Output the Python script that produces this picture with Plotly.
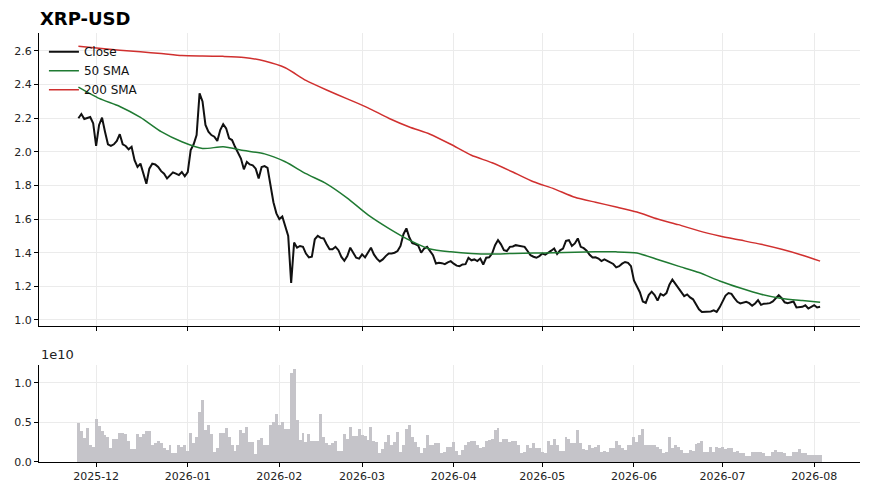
import pandas as pd
import plotly.graph_objects as go
from plotly.subplots import make_subplots

TITLE = "XRP-USD"
START_DATE = "2025-11-25"

# daily close, 2025-11-25 .. 2026-08-03
close = [
    2.20, 2.225, 2.195, 2.20, 2.207, 2.17,
    # Dec
    2.035, 2.16, 2.203, 2.12, 2.045, 2.036, 2.045, 2.065, 2.105, 2.045,
    2.035, 2.015, 2.03, 1.95, 1.91, 1.93, 1.865, 1.81, 1.90, 1.93,
    1.925, 1.91, 1.885, 1.87, 1.842, 1.858, 1.878, 1.87, 1.862, 1.88, 1.855,
    # Jan
    1.88, 2.01, 2.045, 2.10, 2.348, 2.30, 2.16, 2.12, 2.10, 2.09,
    2.065, 2.13, 2.165, 2.14, 2.08, 2.07, 2.03, 1.99, 1.96, 1.896,
    1.94, 1.925, 1.92, 1.90, 1.842, 1.91, 1.915, 1.905, 1.80, 1.70, 1.634,
    # Feb
    1.60, 1.615, 1.56, 1.50, 1.22, 1.46, 1.43, 1.44, 1.435, 1.395,
    1.372, 1.376, 1.48, 1.50, 1.488, 1.485, 1.45, 1.42, 1.42, 1.435,
    1.415, 1.375, 1.352, 1.38, 1.43, 1.40, 1.37, 1.365,
    # Mar
    1.39, 1.372, 1.40, 1.43, 1.39, 1.365, 1.348, 1.36, 1.38, 1.396,
    1.396, 1.40, 1.41, 1.44, 1.51, 1.545, 1.49, 1.457, 1.451, 1.442,
    1.40, 1.425, 1.435, 1.41, 1.385, 1.336, 1.34, 1.338, 1.332, 1.343, 1.35,
    # Apr
    1.335, 1.323, 1.32, 1.33, 1.332, 1.37, 1.355, 1.36, 1.35, 1.365,
    1.33, 1.37, 1.373, 1.395, 1.445, 1.475, 1.45, 1.415, 1.41, 1.435,
    1.437, 1.445, 1.442, 1.437, 1.435, 1.41, 1.385, 1.376, 1.37, 1.38,
    # May
    1.395, 1.388, 1.398, 1.412, 1.425, 1.392, 1.414, 1.425, 1.47, 1.475,
    1.44, 1.455, 1.485, 1.435, 1.427, 1.412, 1.388, 1.372, 1.373, 1.365,
    1.35, 1.36, 1.352, 1.34, 1.333, 1.313, 1.32, 1.335, 1.345, 1.34, 1.32,
    # Jun
    1.235, 1.20, 1.165, 1.11, 1.102, 1.148, 1.168, 1.148, 1.115, 1.155,
    1.145, 1.16, 1.21, 1.24, 1.215, 1.185, 1.16, 1.142, 1.152, 1.134,
    1.123, 1.09, 1.063, 1.048, 1.048, 1.05, 1.05, 1.057, 1.048, 1.075,
    # Jul
    1.112, 1.145, 1.16, 1.155, 1.13, 1.108, 1.098, 1.102, 1.108, 1.10,
    1.085, 1.098, 1.118, 1.09, 1.097, 1.098, 1.10, 1.11, 1.13, 1.148,
    1.13, 1.105, 1.10, 1.105, 1.11, 1.074, 1.074, 1.078, 1.087, 1.068, 1.078,
    # Aug
    1.088, 1.074, 1.078,
]

# daily volume in billions
volume_bn = [
    4.9, 3.9, 3.0, 4.3, 2.1, 1.9, 5.4, 4.5, 3.9, 3.4,
    3.2, 1.8, 2.9, 2.9, 3.6, 3.7, 3.5, 2.6, 1.6, 1.6,
    3.5, 3.2, 3.5, 3.9, 3.9, 2.1, 2.4, 2.6, 2.4, 1.8,
    1.5, 2.2, 1.1, 1.1, 2.2, 1.9, 2.1, 1.4, 3.6, 2.4,
    3.2, 6.3, 7.8, 4.0, 4.7, 3.5, 1.2, 1.8, 3.6, 3.7,
    4.3, 3.1, 2.2, 1.4, 2.1, 4.0, 3.6, 4.4, 2.5, 2.5,
    1.0, 2.8, 3.0, 2.2, 2.2, 4.6, 5.0, 6.1, 4.6, 5.0,
    4.2, 4.2, 11.2, 11.7, 5.3, 2.8, 3.7, 2.5, 3.5, 2.6,
    2.6, 2.6, 6.1, 3.2, 2.4, 2.1, 2.4, 2.6, 1.4, 1.4,
    3.5, 2.9, 4.4, 3.3, 3.3, 4.2, 3.4, 3.3, 2.8, 4.4,
    2.6, 2.5, 1.1, 1.6, 2.5, 3.4, 2.1, 2.5, 3.8, 1.2,
    2.1, 4.2, 4.7, 3.1, 2.5, 1.9, 1.1, 1.8, 3.4, 2.1,
    2.1, 2.4, 2.4, 1.1, 1.2, 1.9,
    1.9, 2.5, 1.4, 0.9, 1.5, 2.1, 2.5, 2.6, 2.6, 2.1,
    1.7, 1.9, 2.6, 2.8, 2.9, 4.0, 4.3, 2.5, 2.9, 2.9,
    2.5, 2.6, 2.6, 2.1, 1.1, 1.2, 2.2, 1.7, 2.4, 1.8,
    1.7, 1.2, 1.1, 2.6, 2.1, 2.9, 2.1, 1.4, 1.4, 3.1,
    2.9, 2.4, 2.4, 4.0, 2.4, 1.6, 1.5, 2.2, 1.8, 1.9,
    2.1, 1.2, 1.4, 1.2, 1.7, 1.8, 2.6, 2.1, 1.8, 1.5,
    2.2, 2.2, 3.2, 2.5, 3.4, 4.2, 2.2, 2.1, 2.1, 2.1,
    1.9, 1.6, 1.1, 1.2, 3.1, 1.8, 2.1, 1.9, 1.5, 1.1,
    1.1, 1.5, 1.4, 2.3, 2.4, 2.6, 1.3, 1.2, 1.9, 1.2,
    1.9, 1.8, 1.9, 1.6, 1.7, 1.7, 1.2, 1.4, 1.1, 1.1,
    0.8, 0.8, 1.3, 1.3, 1.2, 1.2, 1.1, 0.7, 0.7, 1.2,
    1.5, 1.2, 1.2, 1.1, 0.7, 0.7, 1.3, 1.3, 1.6, 1.1,
    1.1, 0.9, 0.9, 0.9, 0.9, 0.9,
]

# moving averages read weekly (plus the last day)
sma_dates = list(pd.date_range(START_DATE, periods=36, freq="7D")) + [pd.Timestamp("2026-08-03")]
sma50 = [
    2.385, 2.318, 2.27, 2.205, 2.12, 2.06, 2.02, 2.03, 2.008, 1.988,
    1.941, 1.87, 1.81, 1.725, 1.625, 1.545, 1.475, 1.422, 1.405, 1.395,
    1.392, 1.396, 1.398, 1.40, 1.403, 1.405, 1.405, 1.398, 1.36, 1.32,
    1.282, 1.232, 1.19, 1.153, 1.128, 1.115, 1.105,
]
sma200 = [
    2.628, 2.616, 2.605, 2.595, 2.585, 2.573, 2.57, 2.568, 2.562, 2.54,
    2.50, 2.425, 2.368, 2.315, 2.262, 2.20, 2.148, 2.105, 2.045, 1.98,
    1.935, 1.88, 1.822, 1.78, 1.73, 1.70, 1.672, 1.642, 1.60, 1.567,
    1.53, 1.50, 1.475, 1.45, 1.42, 1.385, 1.35,
]

FONT = "DejaVu Sans"
GRID = "#ebebeb"

close_dates = pd.date_range(START_DATE, periods=len(close), freq="D")
volume_dates = pd.date_range(START_DATE, periods=len(volume_bn), freq="D")
volume = [v * 1e9 for v in volume_bn]

fig = make_subplots(rows=2, cols=1, shared_xaxes=True)

fig.add_trace(go.Scatter(
    x=close_dates, y=close, name="Close", mode="lines",
    line=dict(color="#111111", width=2),
), row=1, col=1)
fig.add_trace(go.Scatter(
    x=sma_dates, y=sma50, name="50 SMA", mode="lines",
    line=dict(color="#1f7a32", width=1.5, shape="spline", smoothing=0.6),
), row=1, col=1)
fig.add_trace(go.Scatter(
    x=sma_dates, y=sma200, name="200 SMA", mode="lines",
    line=dict(color="#d0302f", width=1.5, shape="spline", smoothing=0.6),
), row=1, col=1)
fig.add_trace(go.Bar(
    x=volume_dates, y=volume, name="Volume", showlegend=False,
    marker=dict(color="#c5c4c9", line=dict(width=0)),
    width=86400000,
), row=2, col=1)

axis_common = dict(
    showline=True, linecolor="black", linewidth=1.2,
    ticks="outside", ticklen=4, tickcolor="black",
    showgrid=True, gridcolor=GRID, gridwidth=1,
    zeroline=False, mirror=False, automargin=False,
    tickfont=dict(family=FONT, size=11, color="#222"),
)

x_range = ["2025-11-11 16:00", "2026-08-16 12:00"]
fig.update_xaxes(
    range=x_range, dtick="M1", tick0="2025-12-01", tickformat="%Y-%m",
    **axis_common,
)
fig.update_xaxes(showticklabels=False, row=1, col=1)
fig.update_xaxes(showticklabels=True, row=2, col=1)

fig.update_yaxes(
    domain=[0.317, 1.0], range=[0.964, 2.707], dtick=0.2, tickformat=".1f",
    row=1, col=1, **axis_common,
)
fig.update_yaxes(
    domain=[0.0, 0.226], range=[0, 1.223e10],
    tickvals=[0, 0.5e10, 1.0e10], ticktext=["0.0", "0.5", "1.0"],
    row=2, col=1, **axis_common,
)

fig.add_annotation(
    text="1e10", xref="paper", yref="paper", x=0, y=0.228,
    xanchor="left", yanchor="bottom", showarrow=False,
    font=dict(family=FONT, size=13, color="#222"),
)

# the page adds an 8px body margin, so the figure is 8px smaller than the window
fig.update_layout(
    width=862, height=486,
    margin=dict(l=31, r=10, t=25, b=32),
    paper_bgcolor="white",
    plot_bgcolor="white",
    title=dict(
        text="<b>XRP-USD</b>", x=0.037, xanchor="left",
        y=0.979, yanchor="middle",
        font=dict(family=FONT, size=18, color="black"),
    ),
    legend=dict(
        x=0.006, y=0.99, xanchor="left", yanchor="top",
        bgcolor="rgba(0,0,0,0)",
        font=dict(family=FONT, size=12, color="#111"),
        tracegroupgap=0,
    ),
    bargap=0,
    showlegend=True,
)

fig.write_html("out.html")
